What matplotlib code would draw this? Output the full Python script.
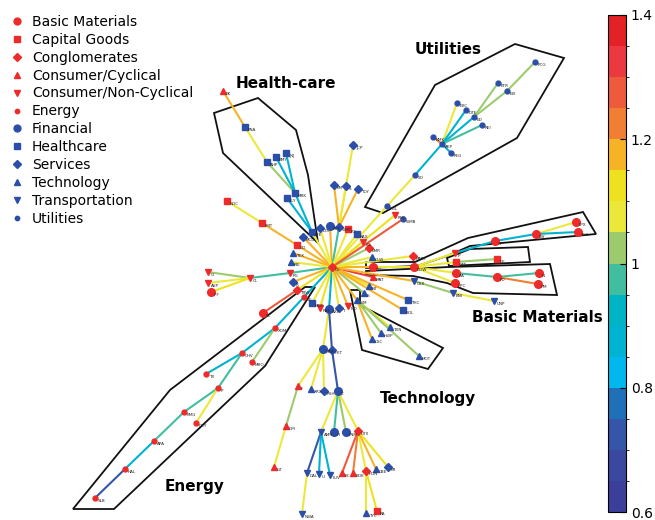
import matplotlib
matplotlib.use("Agg")
import matplotlib.pyplot as plt
from matplotlib.colors import ListedColormap, BoundaryNorm
from matplotlib.patches import Polygon
from matplotlib.lines import Line2D
import numpy as np

# sectors: marker style
sectors = ["Basic Materials", "Capital Goods", "Conglomerates", "Consumer/Cyclical",
           "Consumer/Non-Cyclical", "Energy", "Financial", "Healthcare", "Services",
           "Technology", "Transportation", "Utilities"]
sector_codes = ["BM", "CG", "CO", "CC", "CN", "EN", "FI", "HC", "SV", "TE", "TR", "UT"]
sector_style = {"BM": ("o", "#ee2a2a", 5.5), "CG": ("s", "#ee2a2a", 4.5), "CO": ("D", "#ee2a2a", 4.2),
                "CC": ("^", "#ee2a2a", 5), "CN": ("v", "#ee2a2a", 5), "EN": ("o", "#ee2a2a", 3.5),
                "FI": ("o", "#2b4ea8", 5.5), "HC": ("s", "#2b4ea8", 4.5), "SV": ("D", "#2b4ea8", 4.2),
                "TE": ("^", "#2b4ea8", 5), "TR": ("v", "#2b4ea8", 5), "UT": ("o", "#2b4ea8", 3.5)}

# nodes: name, sector, parent, x(px), y(px), edge value
names = ["GE","JCP","KM","S","TOY","AET","WMT","FO","BAX","KO","EMR","GLW","DD","MAT","NT","IS","IBM",
         "TXN","HWP","CSC","MOT","THC","BOL","MMM","DOW","CSX","BNI","IP","CAT","AA","HPC",
         "PG","CL","G","AVP","IFF","R","TRW","EC","SC","MDT","RAL","AXP","T","MO","MER","HET",
         "XOM","CHV","MRO","TEX","PBI","GD","LMT","NOC","MCD","DIS","PFE","MRK","LLY","AHP","BMY","JNJ",
         "PNA","EK","PGL","PEP","WMB","SO","AEP","NMK","EXC","DTE","ED","REI","PEG","ETR","EIX","PCG",
         "GP","WY","LPX","SCC","DE","PD","N","HM","UNP","TX","P","KMG","OXY","APA","HAL","SLB",
         "F","GM","GT","XRX","RSH","C","AMR","HI","FNM","UTX","DAL","U","LUV","BC","BDK","HON","CBE","KR",
         "NWA","TYC","RA"]
sector = ["CO","SV","SV","SV","SV","FI","SV","CG","HC","CN","CO","TE","BM","CC","TE","TE","TE",
          "TE","TE","TE","TE","HC","HC","CO","BM","TR","TR","CN","CG","BM","BM",
          "CN","CN","CN","CN","BM","SV","CO","BM","EN","HC","CN","FI","SV","CN","FI","SV",
          "EN","EN","EN","TE","TE","CG","CG","CG","SV","SV","HC","HC","HC","HC","HC","HC",
          "HC","CC","UT","CN","UT","UT","UT","UT","UT","UT","UT","UT","UT","UT","UT","UT",
          "BM","BM","BM","BM","CG","BM","BM","BM","TR","EN","EN","EN","EN","EN","EN","EN",
          "CC","CC","CC","TE","SV","FI","TR","FI","FI","CO","TR","TR","TR","CC","CC","CO","TE","SV",
          "TR","TE","CG"]
parent = [None,"WMT","WMT","WMT","WMT","GE","GE","GE","GE","GE","GE","GE","GE","GE","GE","GE","GE",
          "IBM","IBM","IBM","IBM","GE","GE","GE","DD","GE","CSX","DOW","DOW","DOW","DOW",
          "GE","PG","CL","CL","CL","GE","GE","TRW","GE","GE","GE","GE","GE","GE","AXP","AXP",
          "SC","XOM","XOM","GE","GE","GE","GD","LMT","GE","GE","GE","PFE","PFE","MRK","MRK","MRK",
          "AHP","PNA","GE","GE","GE","PGL","SO","AEP","AEP","AEP","AEP","AEP","AEP","ED","ED","EIX",
          "IP","GP","WY","WY","CAT","AA","PD","PD","BNI","CHV","CHV","P","P","KMG","APA","HAL",
          "MER","F","GM","MER","MER","HET","C","C","C","C","AMR","AMR","AMR","UTX","UTX","UTX","UTX","UTX",
          "DAL","HON","HON"]
xs = [332,353,334,346,358,330,339,348,357,363,369,372,373,373,369,364,357,
      390,381,372,419,408,403,413,414,414,453,455,456,456,455,
      290,250,208,208,211,293,297,263,304,312,320,329,339,348,323,332,
      275,242,252,293,291,297,262,227,303,320,312,295,287,267,276,286,
      245,223,387,395,403,415,442,433,457,466,474,482,451,498,507,535,
      495,536,576,578,497,497,539,538,494,206,218,184,196,154,125,95,
      298,286,274,311,324,338,321,334,346,358,307,319,330,342,353,366,376,388,
      302,366,377]
ys = [267,145,185,186,189,226,227,229,234,242,248,257,267,277,286,293,300,
      327,333,339,356,300,310,256,267,281,293,253,262,273,283,
      273,278,272,283,292,282,290,313,297,303,308,309,308,306,349,350,
      328,353,362,253,262,245,223,201,237,228,232,193,198,162,157,153,
      127,91,206,215,219,175,144,137,103,110,117,125,153,83,91,62,
      241,234,222,232,259,277,273,284,301,374,388,412,423,441,469,498,
      386,426,467,389,391,391,432,432,432,431,473,474,475,473,473,471,469,467,
      514,513,511]
edge_val = [1.0,1.08,1.18,1.08,1.18,1.17,0.97,1.08,1.08,1.1,1.02,1.08,1.18,1.3,1.1,1.02,1.18,
            1.08,1.02,1.18,1.02,1.17,1.18,1.08,1.08,1.18,1.02,1.08,1.08,1.08,1.08,
            0.97,0.97,1.02,1.08,1.1,1.18,1.1,1.25,0.87,1.08,1.1,0.87,1.08,1.18,1.08,0.72,
            0.87,0.87,1.02,1.18,1.08,1.18,1.18,1.08,1.17,1.08,1.08,0.87,0.87,1.02,0.87,0.87,
            1.08,1.18,1.08,1.1,1.25,1.08,0.87,1.22,1.08,0.87,0.87,0.97,0.87,1.02,1.02,1.02,
            0.87,0.87,1.08,0.87,1.02,0.97,0.97,1.2,1.08,0.87,0.97,0.97,1.08,0.97,0.87,0.7,
            1.08,1.02,1.08,1.08,1.08,0.72,1.08,0.97,1.02,1.08,0.7,0.87,0.87,1.25,1.2,1.08,1.18,1.1,
            1.08,1.08,1.1]

cb_colors = ["#3b3f9a", "#3a48a0", "#3556a8", "#1f70b6", "#00b8ee", "#00b3d0", "#00b4c6", "#41bea0",
             "#9ccb6e", "#ece83a", "#eee21f", "#f7b326", "#f07f34", "#ee5a3c", "#ea3a40", "#e32227"]
cmap = ListedColormap(cb_colors)
bounds = np.linspace(0.6, 1.4, 17)
norm = BoundaryNorm(bounds, cmap.N)

fig = plt.figure(figsize=(6.55, 5.2), dpi=100)
ax = fig.add_axes([0, 0, 1, 1])
ax.set_xlim(0, 655)
ax.set_ylim(520, 0)
ax.axis("off")

idx = {n: i for i, n in enumerate(names)}
for i, n in enumerate(names):
    p = parent[i]
    if p is None:
        continue
    j = idx[p]
    ax.plot([xs[j], xs[i]], [ys[j], ys[i]], color=cmap(norm(edge_val[i])), lw=1.5, zorder=2,
            solid_capstyle="round")

for i, n in enumerate(names):
    m, c, s = sector_style[sector[i]]
    ax.plot(xs[i], ys[i], marker=m, color=c, ms=s, mec=c, zorder=4, ls="none")
    ax.text(xs[i] + 3, ys[i] + 3, n, fontsize=3.0, color="#222222", ha="left", va="center", zorder=5)

polys = [
    [(214, 113), (258, 98), (296, 130), (308, 175), (318, 243), (223, 153)],
    [(435, 85), (515, 44), (564, 58), (517, 138), (383, 213), (365, 207)],
    [(366, 262), (415, 262), (468, 238), (583, 212), (596, 234), (470, 246), (447, 256), (417, 266), (366, 268)],
    [(447, 258), (470, 249), (528, 247), (530, 262), (449, 266)],
    [(366, 271), (449, 267), (550, 264), (557, 295), (473, 293), (447, 283), (413, 276), (366, 275)],
    [(350, 290), (360, 290), (360, 305), (443, 348), (428, 369), (362, 350)],
    [(73, 509), (114, 509), (265, 366), (315, 287), (305, 287), (170, 390)],
]
for pts in polys:
    ax.add_patch(Polygon(pts, closed=True, fill=False, ec="#111111", lw=1.3, zorder=1))

for txt, x, y in [("Health-care", 236, 84), ("Utilities", 415, 50), ("Basic Materials", 472, 318),
                  ("Technology", 380, 398), ("Energy", 165, 487)]:
    ax.text(x, y, txt, fontsize=11, fontweight="bold", ha="left", va="center", zorder=6)

handles = []
for code, lab in zip(sector_codes, sectors):
    m, c, s = sector_style[code]
    handles.append(Line2D([], [], marker=m, color=c, ls="none", ms=s * 0.9, label=lab))
leg = ax.legend(handles=handles, loc="upper left", bbox_to_anchor=(0.0, 0.99), frameon=False,
                fontsize=10, handletextpad=0.6, labelspacing=0.28, borderaxespad=0.3, handlelength=1.0)

cax = fig.add_axes([608 / 655, 1 - 512 / 520, 18 / 655, 497 / 520])
cb = fig.colorbar(plt.cm.ScalarMappable(norm=norm, cmap=cmap), cax=cax, ticks=[0.6, 0.8, 1.0, 1.2, 1.4])
cb.ax.set_yticklabels(["0.6", "0.8", "1", "1.2", "1.4"])
cb.ax.tick_params(labelsize=10, direction="in", length=4)
cb.outline.set_linewidth(0.8)

fig.savefig("out.png", dpi=100)
